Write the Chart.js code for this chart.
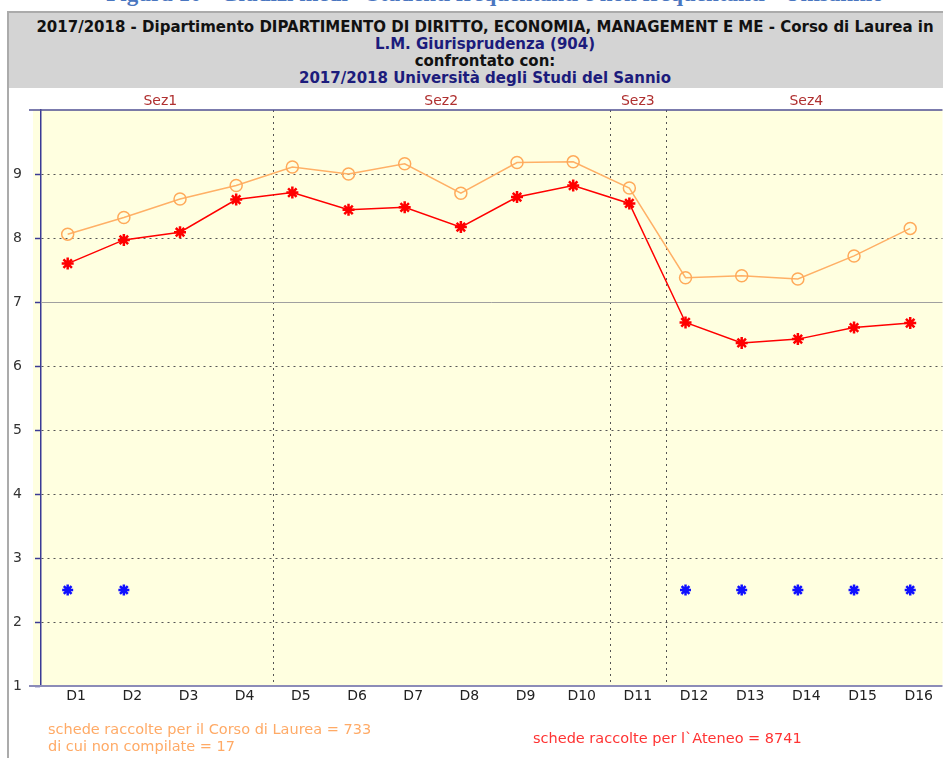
<!DOCTYPE html>
<html>
<head>
<meta charset="utf-8">
<script src="https://cdn.jsdelivr.net/npm/chart.js"></script>
<style>
  body { margin: 0; background: #fff; width: 943px; height: 758px; overflow: hidden; position: relative; font-family: "DejaVu Sans", Verdana, sans-serif; }
  #fig { position: absolute; left: 0; top: -19px; width: 990px; text-align: center; font-family: "Liberation Serif", serif; font-weight: bold; font-size: 23px; color: #4a76c0; white-space: nowrap; }
  #frame { position: absolute; left: 7px; top: 11px; width: 960px; height: 800px; border-left: 2px solid #ababab; border-top: 2px solid #ababab; }
  #head { position: absolute; left: 9px; top: 13px; width: 952px; height: 75px; background: #d4d4d4; text-align: center; font-weight: bold; font-size: 15px; line-height: 17.3px; white-space: nowrap; }
  #head div { height: 17.3px; }
  .blu { color: #1c1c7c; }
  .blk { color: #111; }
  #box { position: absolute; left: 0; top: 88px; width: 951px; height: 670px; }
  .foot { position: absolute; font-size: 14.5px; line-height: 17px; white-space: nowrap; }
</style>
</head>
<body>
<div id="fig">Figura 10 - Giudizi medi - Studenti frequentanti e non frequentanti - Unisannio</div>
<div id="frame"></div>
<div id="head">
  <div class="blk" style="margin-top:5.5px">2017/2018 - Dipartimento DIPARTIMENTO DI DIRITTO, ECONOMIA, MANAGEMENT E ME - Corso di Laurea in</div>
  <div class="blu">L.M. Giurisprudenza (904)</div>
  <div class="blk">confrontato con:</div>
  <div class="blu">2017/2018 Università degli Studi del Sannio</div>
</div>
<div id="box"><canvas id="chart"></canvas></div>
<div class="foot" style="left:48px; top:721px; color:#ffaa66">schede raccolte per il Corso di Laurea = 733<br>di cui non compilate = 17</div>
<div class="foot" style="left:533px; top:730px; color:#ff3333">schede raccolte per l`Ateneo = 8741</div>
<script>
const categories = ['D1', 'D2', 'D3', 'D4', 'D5', 'D6', 'D7', 'D8', 'D9', 'D10', 'D11', 'D12', 'D13', 'D14', 'D15', 'D16'];
const corso = [8.06, 8.32, 8.61, 8.82, 9.11, 9.00, 9.16, 8.70, 9.18, 9.19, 8.78, 7.38, 7.41, 7.36, 7.72, 8.15];
const ateneo = [7.60, 7.97, 8.09, 8.60, 8.71, 8.44, 8.48, 8.17, 8.64, 8.82, 8.54, 6.68, 6.36, 6.42, 6.60, 6.67];
const segnati = [2.5, 2.5, null, null, null, null, null, null, null, null, null, 2.5, 2.5, 2.5, 2.5, 2.5];
const sezioni = ['Sez1', 'Sez2', 'Sez3', 'Sez4'];
const sezioniFine = [4, 10, 11, 16];
const yTicks = [1, 2, 3, 4, 5, 6, 7, 8, 9, 10];

function points(values) {
  return values.map((v, i) => ({x: i + 1, y: v}));
}

const plotPlugin = {
  id: 'plot',
  beforeDraw(chart) {
    const ctx = chart.ctx, a = chart.chartArea;
    ctx.save();
    ctx.fillStyle = '#ffffe0';
    ctx.fillRect(a.left - 8, a.top, a.right - a.left + 8, a.bottom - a.top);
    ctx.restore();
  },
  beforeDatasetsDraw(chart) {
    const ctx = chart.ctx, a = chart.chartArea;
    const x = chart.scales.x, y = chart.scales.y;
    ctx.save();
    // separatori delle sezioni
    ctx.strokeStyle = '#555';
    ctx.lineWidth = 1;
    ctx.setLineDash([2, 4]);
    for (let k = 0; k < sezioniFine.length - 1; k++) {
      const px = Math.round(x.getPixelForValue(sezioniFine[k] + 0.65)) + 0.5;
      ctx.beginPath();
      ctx.moveTo(px, a.top);
      ctx.lineTo(px, a.bottom);
      ctx.stroke();
    }
    ctx.setLineDash([]);
    // linea piena a 7
    const p7 = Math.round(y.getPixelForValue(7)) + 0.5;
    ctx.strokeStyle = '#a0a0a0';
    ctx.beginPath();
    ctx.moveTo(a.left, p7);
    ctx.lineTo(a.right, p7);
    ctx.stroke();
    // bordi sopra e sotto
    ctx.strokeStyle = '#4f4f92';
    ctx.lineWidth = 1.5;
    ctx.beginPath();
    ctx.moveTo(a.left - 12, a.top);
    ctx.lineTo(a.right, a.top);
    ctx.stroke();
    ctx.strokeStyle = '#8c8cb8';
    ctx.lineWidth = 2;
    ctx.beginPath();
    ctx.moveTo(a.left - 12, a.bottom);
    ctx.lineTo(a.right, a.bottom);
    ctx.stroke();
    // etichette delle sezioni
    ctx.fillStyle = '#b03030';
    ctx.font = '14px "DejaVu Sans"';
    ctx.textAlign = 'center';
    ctx.textBaseline = 'middle';
    let start = 1;
    for (let k = 0; k < sezioni.length; k++) {
      const l = x.getPixelForValue(start - 0.35);
      const r = x.getPixelForValue(sezioniFine[k] + 0.65);
      ctx.fillText(sezioni[k], (l + r) / 2, a.top - 9);
      start = sezioniFine[k] + 1;
    }
    ctx.restore();
  }
};

new Chart('chart', {
  type: 'line',
  data: {
    datasets: [{
      data: points(corso),
      borderColor: '#ffb066',
      backgroundColor: 'transparent',
      borderWidth: 1.5,
      pointStyle: 'circle',
      pointRadius: 6,
      pointBorderWidth: 1.5,
      pointBorderColor: '#ffaa5a',
      pointBackgroundColor: 'transparent'
    }, {
      data: points(ateneo),
      borderColor: '#ff0000',
      borderWidth: 1.5,
      pointStyle: 'star',
      pointRadius: 6,
      pointBorderWidth: 2.5,
      pointBorderColor: '#ff0000',
      pointBackgroundColor: '#ff0000'
    }, {
      data: points(segnati),
      showLine: false,
      pointStyle: 'star',
      pointRadius: 5.5,
      pointBorderWidth: 2.5,
      pointBorderColor: '#1010ff',
      pointBackgroundColor: '#1010ff'
    }]
  },
  options: {
    responsive: true,
    maintainAspectRatio: false,
    animation: false,
    layout: {padding: {top: 22, left: 0, right: 0, bottom: 0}},
    plugins: {
      legend: {display: false},
      tooltip: {enabled: false}
    },
    scales: {
      x: {
        type: 'linear',
        min: 0.525,
        max: 16.575,
        afterBuildTicks: (s) => { s.ticks = categories.map((c, i) => ({value: i + 1})); },
        afterFit: (s) => { s.height = 72; },
        grid: {display: false, drawTicks: false},
        border: {display: false},
        ticks: {
          autoSkip: false,
          maxRotation: 0,
          labelOffset: 8.5,
          padding: 2,
          color: '#222',
          font: {family: 'DejaVu Sans', size: 14},
          callback: (v) => categories[v - 1] || ''
        }
      },
      y: {
        min: 1,
        max: 10,
        afterBuildTicks: (s) => { s.ticks = yTicks.map(v => ({value: v})); },
        afterFit: (s) => { s.width = 41; },
        grid: {
          color: (c) => [1, 7, 10].includes(c.tick.value) ? 'transparent' : '#555',
          lineWidth: 1,
          tickLength: 6,
          tickWidth: 1.5,
          tickBorderDash: [],
          tickColor: (c) => c.tick.value === 10 ? 'transparent' : '#3a3a96'
        },
        border: {color: '#3a3a96', width: 1.5, dash: [2, 4]},
        ticks: {
          padding: 13,
          color: '#333',
          font: {family: 'DejaVu Sans', size: 14},
          callback: (v) => v === 10 ? '' : String(v)
        }
      }
    }
  },
  plugins: [plotPlugin]
});
</script>
</body>
</html>
